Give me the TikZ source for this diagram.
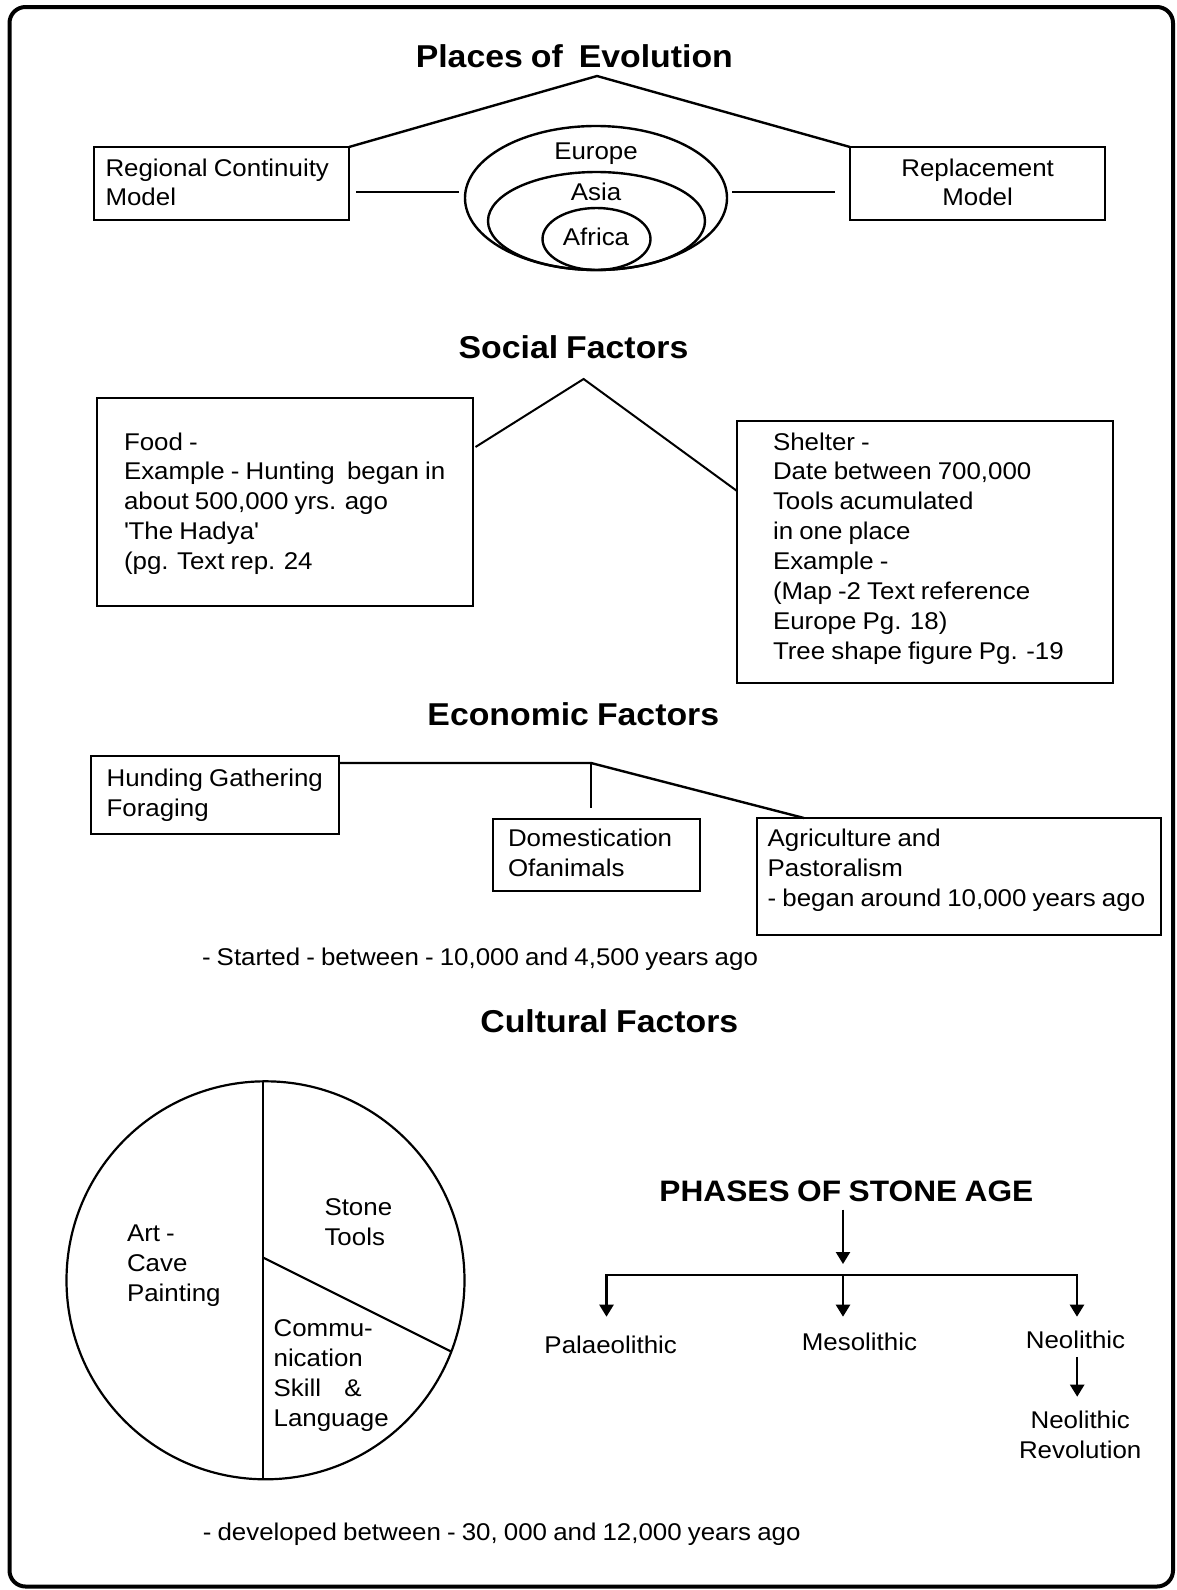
\documentclass[tikz,border=0pt]{standalone}
\usepackage{fontspec}
\setmainfont[FakeStretch=1.07,WordSpace=0.85]{Liberation Sans}
\usetikzlibrary{arrows.meta,calc,shapes.geometric}
\newcommand\ftxt{\fontsize{24.2}{29.9}\selectfont}
\newcommand\fttl{\fontsize{31.6}{36}\selectfont\bfseries}
\newcommand\fph{\fontsize{29.6}{34}\selectfont\bfseries}
\newcommand\fstrut{\rule{0pt}{20pt}}
\begin{document}
\begin{tikzpicture}[x=1pt,y=-1pt,
  every node/.style={inner sep=0pt, outer sep=0pt},
  box/.style={draw, line width=2.6pt, rectangle, anchor=north west},
  txt/.style={font=\ftxt, align=left, anchor=north west},
  ctxt/.style={font=\ftxt, align=center, anchor=north},
  lbl/.style={font=\ftxt, anchor=base},
  lblw/.style={font=\ftxt, anchor=base west},
  ttl/.style={font=\fttl, anchor=base},
  conn/.style={line width=2.4pt},
  arrowone/.style={line width=2.3pt, -{Triangle[length=12pt,width=14pt]}},
  arrowtwo/.style={line width=2.3pt, {Triangle[length=12pt,width=14pt]}-{Triangle[length=12pt,width=14pt]}},
  oval/.style={draw, ellipse, line width=2.4pt}
]
\useasboundingbox (0,0) rectangle (1177,1590);
\fill[white] (0,0) rectangle (1177,1590);
\draw[line width=4pt, rounded corners=16pt] (9.5,7) rectangle (1173,1586.5);

% ---------- Places of Evolution ----------
\node[ttl] (t1) at (574.3,67) {Places of\ \ Evolution};
\node[box, minimum width=255pt, minimum height=73pt] (reg) at (94,147) {};
\node[box, minimum width=255pt, minimum height=73pt] (rep) at (850,147) {};
\node[txt] (regt) at (105.5,156) {\fstrut Regional Continuity\\Model};
\node[ctxt] (rept) at (977.6,156) {\fstrut Replacement\\Model};
\node[oval, minimum width=262pt, minimum height=144pt] (eu) at (596,198) {};
\node[oval, minimum width=217pt, minimum height=98pt] (as) at (596.5,221) {};
\node[oval, minimum width=108pt, minimum height=62pt] (af) at (596.5,239) {};
\node[lbl] (eut) at (596,159) {Europe};
\node[lbl] (ast) at (596,200) {Asia};
\node[lbl] (aft) at (596,245) {Africa};
\coordinate (apx) at (597,76);
\draw[conn] (reg.north east) -- (apx) -- (rep.north west);
\draw[conn] ($(reg.north east)+(7,44.7)$) -- ($(eu.west)+(-6,-6.3)$);
\draw[conn] ($(eu.east)+(5,-6.3)$) -- ($(rep.north west)+(-15,44.7)$);

% ---------- Social Factors ----------
\node[ttl] (t2) at (573.5,358) {Social Factors};
\node[box, minimum width=376pt, minimum height=208pt] (food) at (97,398) {};
\node[box, minimum width=376pt, minimum height=262pt] (shel) at (737,421) {};
\node[txt] (foodt) at (124,430) {\fstrut Food -\\Example - Hunting\ \ began in\\about 500,000 yrs. ago\\\textquotesingle The Hadya\textquotesingle\\(pg. Text rep. 24};
\node[txt] (shelt) at (773,430) {\fstrut Shelter -\\Date between 700,000\\Tools acumulated\\in one place\\Example -\\(Map -2 Text reference\\Europe Pg. 18)\\Tree shape figure Pg. -19};
\coordinate (sapx) at (583.6,379);
\draw[line width=2pt] ($(food.north east)+(2.5,49)$) -- (sapx) -- ($(shel.north west)+(0,70)$);

% ---------- Economic Factors ----------
\node[ttl] (t3) at (573.3,725) {Economic Factors};
\node[box, minimum width=248pt, minimum height=78pt] (hunt) at (91,756) {};
\node[box, minimum width=207pt, minimum height=72pt] (dom) at (493,819) {};
\node[box, minimum width=404pt, minimum height=117pt] (agr) at (757,818) {};
\node[txt] (huntt) at (106.6,766.7) {\fstrut Hunding Gathering\\Foraging};
\node[txt] (domt) at (508,826.7) {\fstrut Domestication\\Ofanimals};
\node[txt] (agrt) at (767.7,826.7) {\fstrut Agriculture and\\Pastoralism\\- began around 10,000 years ago};
\coordinate (ej) at (591,763);
\draw[conn] ($(hunt.north east)+(0,7)$) -- (ej) -- ($(agr.north west)+(47,0)$);
\draw[line width=1.8pt] (ej) -- ($(dom.north west)+(98,-11)$);
\node[lblw] (started) at (202,965.5) {- Started - between - 10,000 and 4,500 years ago};

% ---------- Cultural Factors ----------
\node[ttl] (t4) at (609.3,1032.3) {Cultural Factors};
\node[draw, circle, line width=2.2pt, minimum size=398pt] (pie) at (265.5,1280.3) {};
\coordinate (ptop) at (263,1081.4);
\coordinate (pbot) at (263,1479.2);
\coordinate (pj) at (263,1257.5);
\draw[line width=2.2pt] (ptop) -- (pbot);
\draw[line width=2.2pt] (pj) -- (pie.-21.4);
\node[txt] (artt) at (127,1221.8) {\fstrut Art -\\Cave\\Painting};
\node[txt] (stonet) at (324.5,1195.6) {\fstrut Stone\\Tools};
\node[txt] (commt) at (273.6,1316.6) {\fstrut Commu-\\nication\\Skill\hspace{23.4pt}\&\\Language};
\node[lblw] (devt) at (202.8,1540) {- developed between - 30, 000 and 12,000 years ago};

% ---------- Phases of Stone Age ----------
\node[font=\fph, anchor=base] (t5) at (846.4,1201.7) {PHASES OF STONE AGE};
\coordinate (bl) at (606.5,1275);
\coordinate (bm) at (843,1275);
\coordinate (br) at (1077,1275);
\draw[arrowone] ($(t5.south)+(-3.4,7.6)$) -- ($(bm)+(0,-11)$);
\draw[arrowtwo] ($(bl)+(0,41.7)$) -- (bl) -- (br) -- ($(br)+(0,41.7)$);
\draw[arrowone] (bm) -- ($(bm)+(0,41.7)$);
\node[lbl] (pal) at (610.7,1353.5) {Palaeolithic};
\node[lbl] (mes) at (859.4,1350) {Mesolithic};
\node[lbl] (neo) at (1075.5,1348.3) {Neolithic};
\node[ctxt] (neor) at (1080.2,1408.3) {\fstrut Neolithic\\Revolution};
\draw[arrowone] ($(neo.south)+(1.7,8.4)$) -- ($(neor.north)+(-3,-11.6)$);
\end{tikzpicture}
\end{document}
